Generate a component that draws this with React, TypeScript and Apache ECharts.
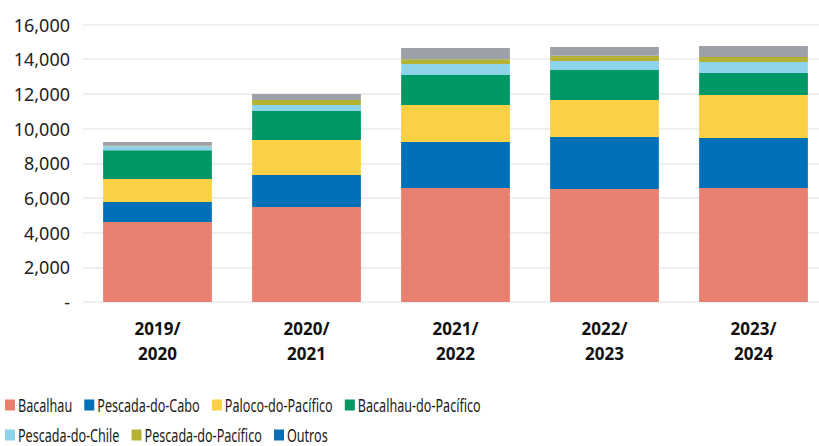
import React, { useEffect, useRef } from "react";
import * as echarts from "echarts";

const categories = ["2019/\n2020", "2020/\n2021", "2021/\n2022", "2022/\n2023", "2023/\n2024"];
const bacalhau = [4610, 5480, 6570, 6515, 6570];
const pescadaDoCabo = [1150, 1845, 2650, 3000, 2880];
const palocoDoPacifico = [1325, 2020, 2135, 2135, 2480];
const bacalhauDoPacifico = [1670, 1670, 1730, 1730, 1270];
const pescadaDoChile = [230, 345, 635, 520, 635];
const pescadaDoPacifico = [20, 290, 270, 305, 290];
const outros = [215, 345, 650, 500, 635];
const yTicks = [0, 2000, 4000, 6000, 8000, 10000, 12000, 14000, 16000];

const seriesDefs = [
  { name: "Bacalhau", data: bacalhau, color: "#e8806f" },
  { name: "Pescada-do-Cabo", data: pescadaDoCabo, color: "#0071b8" },
  { name: "Paloco-do-Pacífico", data: palocoDoPacifico, color: "#fad144" },
  { name: "Bacalhau-do-Pacífico", data: bacalhauDoPacifico, color: "#009767" },
  { name: "Pescada-do-Chile", data: pescadaDoChile, color: "#8dd3ea" },
  { name: "Pescada-do-Pacífico", data: pescadaDoPacifico, color: "#b3b235" },
  { name: "Outros", data: outros, color: "#9ca1a8", legendColor: "#0a6db3" },
];
const legendRows = [seriesDefs.slice(0, 4), seriesDefs.slice(4)];

const FONT = "'Noto Sans', sans-serif";
const LEGEND_FONT_SIZE = 18;
const LEGEND_SCALE = 0.7;

export default function App() {
  const ref = useRef<HTMLDivElement>(null);
  useEffect(() => {
    document.body.style.margin = "0";
    if (!ref.current) return;
    const chart = echarts.init(ref.current, null, { renderer: "svg" });

    const ctx = document.createElement("canvas").getContext("2d")!;
    ctx.font = `${LEGEND_FONT_SIZE}px 'Noto Sans'`;
    const legendGraphics: any[] = [];
    const rowY = [405, 435];
    legendRows.forEach((row, ri) => {
      let x = 5;
      row.forEach((d: any) => {
        const w = ctx.measureText(d.name).width * LEGEND_SCALE;
        legendGraphics.push({
          type: "rect",
          shape: { x, y: rowY[ri] - 5.5, width: 10, height: 11 },
          style: { fill: d.legendColor || d.color },
        });
        legendGraphics.push({
          type: "text",
          x: x + 13,
          y: rowY[ri],
          scaleX: LEGEND_SCALE,
          style: {
            text: d.name,
            fontFamily: FONT,
            fontSize: LEGEND_FONT_SIZE,
            fill: "#1a1a1a",
            verticalAlign: "middle",
            align: "left",
          },
        });
        x += 13 + w + 12;
      });
    });

    chart.setOption({
      animation: false,
      grid: { left: 83, top: 24.5, width: 745, height: 277.5, containLabel: false },
      xAxis: {
        type: "category",
        data: categories,
        axisLine: { show: false },
        axisTick: { show: false },
        axisLabel: {
          fontFamily: FONT,
          fontSize: 17,
          fontWeight: "bold",
          color: "#111",
          lineHeight: 25,
          margin: 14,
        },
      },
      yAxis: {
        type: "value",
        min: 0,
        max: 16000,
        interval: 2000,
        axisLine: { show: false },
        axisTick: { show: false },
        splitLine: { lineStyle: { color: "#efefef", width: 2 } },
        axisLabel: {
          fontFamily: FONT,
          fontSize: 18,
          color: "#222",
          margin: 13,
          formatter: (v: number) =>
            v === 0 ? "-" : yTicks.includes(v) ? v.toLocaleString("en-US") : "",
        },
      },
      graphic: legendGraphics,
      series: seriesDefs.map((d) => ({
        name: d.name,
        type: "bar",
        stack: "total",
        barWidth: "73%",
        data: d.data,
        itemStyle: { color: d.color },
      })),
    });
    return () => chart.dispose();
  }, []);
  return (
    <div style={{ width: 819, height: 446, overflow: "hidden", position: "relative" }}>
      <div ref={ref} style={{ width: 830, height: 446 }} />
    </div>
  );
}
